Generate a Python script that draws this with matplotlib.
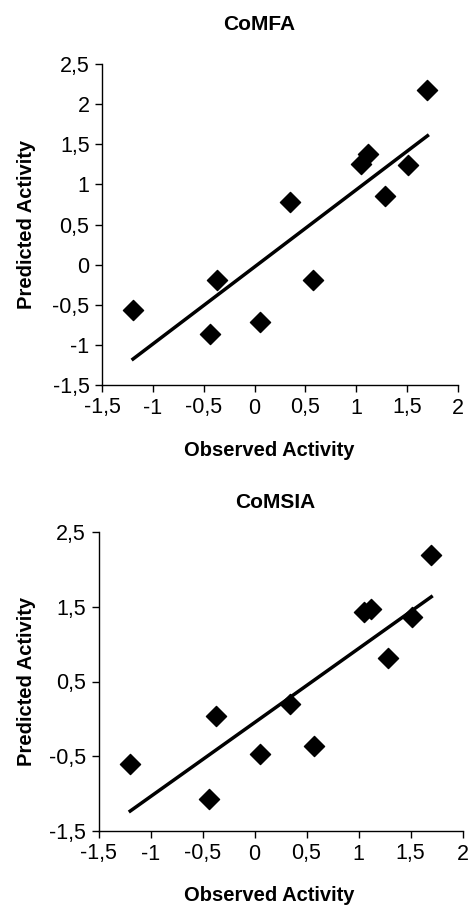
import numpy as np
import matplotlib.pyplot as plt
from matplotlib.ticker import FuncFormatter

# Observed activity (same compounds in both models)
observed = [-1.195, -0.44, -0.37, 0.05, 0.345, 0.57, 1.05, 1.12, 1.28, 1.51, 1.70]

# Predicted activity
pred_comfa = [-0.56, -0.86, -0.19, -0.72, 0.78, -0.19, 1.25, 1.38, 0.86, 1.24, 2.17]
pred_comsia = [-0.61, -1.07, 0.04, -0.47, 0.20, -0.36, 1.43, 1.47, 0.82, 1.36, 2.19]

# fitted lines (slope, intercept)
fit_comfa = (0.961, -0.028)
fit_comsia = (0.99, -0.05)

plt.rcParams['font.family'] = ['Liberation Sans', 'DejaVu Sans']

comma = FuncFormatter(lambda v, pos: ('%g' % v).replace('.', ','))

fig = plt.figure(figsize=(4.71, 9.07), dpi=100)
ax1 = fig.add_axes([102 / 471, 1 - 385 / 907, 356 / 471, 321 / 907])
ax2 = fig.add_axes([98.5 / 471, 1 - 831 / 907, 364 / 471, 299 / 907])


def draw(ax, pred, fit, title, yticks, title_x, title_y, xlab_y, ylab_x):
    ax.scatter(observed, pred, marker='D', s=105, color='black', zorder=3)
    xs = np.array([min(observed), max(observed)])
    ax.plot(xs, fit[0] * xs + fit[1], color='black', lw=2.5)
    ax.set_xlim(-1.5, 2)
    ax.set_ylim(-1.5, 2.5)
    ax.set_xticks(np.arange(-1.5, 2.01, 0.5))
    ax.set_yticks(yticks)
    ax.xaxis.set_major_formatter(comma)
    ax.yaxis.set_major_formatter(comma)
    for s in ['top', 'right']:
        ax.spines[s].set_visible(False)
    for s in ['left', 'bottom']:
        ax.spines[s].set_linewidth(1.0)
    ax.tick_params(labelsize=15.5, length=5, width=1, direction='out', pad=4)
    ax.set_xlabel('Observed Activity', fontsize=14.5, fontweight='bold')
    ax.xaxis.set_label_coords(0.47, xlab_y)
    ax.set_ylabel('Predicted Activity', fontsize=14.5, fontweight='bold')
    ax.yaxis.set_label_coords(ylab_x, 0.5)
    fig.text(title_x / 471, 1 - title_y / 907, title,
             fontsize=15, fontweight='bold', ha='center', va='center')


draw(ax1, pred_comfa, fit_comfa, 'CoMFA', np.arange(-1.5, 2.51, 0.5), 259, 25, -0.175, -0.185)
draw(ax2, pred_comsia, fit_comsia, 'CoMSIA', np.arange(-1.5, 2.51, 1.0), 275, 502, -0.183, -0.172)

fig.savefig('out.png', dpi=100)
